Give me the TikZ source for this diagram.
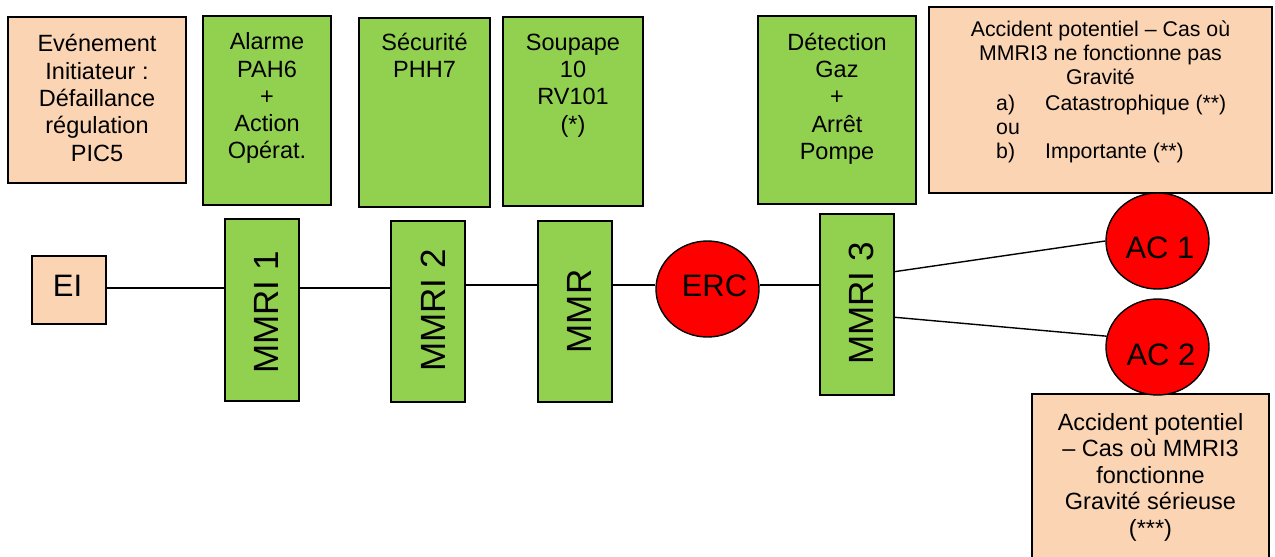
\documentclass[tikz,border=0pt]{standalone}
\usepackage{fontspec}
\setmainfont{Liberation Sans}
\usetikzlibrary{shapes.geometric,calc}
\definecolor{peach}{HTML}{FBD4B4}
\definecolor{lgreen}{HTML}{92D050}
\definecolor{redfill}{HTML}{FF0000}
\newcommand{\fsTop}{\fontsize{23.5}{27.3}\selectfont}
\newcommand{\fsAcc}{\fontsize{21.3}{24.4}\selectfont}
\newcommand{\fsBot}{\fontsize{23.5}{26.5}\selectfont}
\newcommand{\fsRot}{\fontsize{35}{40}\selectfont}
\newcommand{\fsCirc}{\fontsize{31}{36}\selectfont}
\begin{document}
\begin{tikzpicture}[x=1pt,y=-1pt,
  pbox/.style={draw=black,line width=1.6pt,fill=peach,inner sep=0pt},
  gbox/.style={draw=black,line width=1.6pt,fill=lgreen,inner sep=0pt},
  rcirc/.style={ellipse,draw=black,line width=1.4pt,fill=redfill,minimum width=103pt,minimum height=96pt,inner sep=0pt},
  txt/.style={inner sep=0pt,align=center,anchor=north,font=\fsTop},
  rtxt/.style={inner sep=0pt,rotate=90,font=\fsRot},
  ctxt/.style={inner sep=0pt,font=\fsCirc},
  conn/.style={line width=1.4pt}]
\clip (0,0) rectangle (1275,557);
\fill[white] (0,0) rectangle (1275,557);

% top boxes
\node[pbox,minimum width=178pt,minimum height=166pt] (evt) at (97,100) {};
\node[txt] (evtT) at (97,32.6) {\strut Evénement\\Initiateur :\\Défaillance\\régulation\\PIC5};

\node[gbox,minimum width=128pt,minimum height=189pt] (alarm) at (267,110.5) {};
\node[txt] (alarmT) at (267,30.4) {\strut Alarme\\PAH6\\+\\Action\\Opérat.};

\node[gbox,minimum width=131pt,minimum height=189pt] (secu) at (424.5,112.5) {};
\node[txt] (secuT) at (424.5,30.9) {\strut Sécurité\\PHH7};

\node[gbox,minimum width=140pt,minimum height=189pt] (soup) at (573,111.5) {};
\node[txt] (soupT) at (573,30.9) {\strut Soupape\\10\\RV101\\(*)};

\node[gbox,minimum width=158pt,minimum height=188pt] (detect) at (837,110) {};
\node[txt] (detectT) at (837,30.9) {\strut Détection\\Gaz\\+\\Arrêt\\Pompe};

\node[pbox,minimum width=343pt,minimum height=186pt] (accTop) at (1100.5,100) {};
\node[txt,font=\fsAcc] (accTopT) at (1100.5,18.9) {\strut Accident potentiel – Cas où\\MMRI3 ne fonctionne pas\\Gravité};
\node[inner sep=0pt,align=left,anchor=north west,font=\fsAcc] (accList) at (996,92.9)
  {\strut\makebox[49pt][l]{a)}Catastrophique (**)\\ou\\\makebox[49pt][l]{b)}Importante (**)};

% bottom box
\node[pbox,minimum width=237pt,minimum height=200pt] (accBot) at (1150.5,494) {};
\node[txt,font=\fsBot] (accBotT) at (1150.5,411.5) {\strut Accident potentiel\\– Cas où MMRI3\\fonctionne\\Gravité sérieuse\\(***)};

% chain
\node[pbox,minimum width=74pt,minimum height=68pt] (ei) at (69,290) {};
\node[ctxt] (eiT) at (67.5,286) {EI};

\node[gbox,minimum width=74pt,minimum height=182pt] (m1) at (262,310) {};
\node[rtxt] (m1T) at (266.5,312.5) {MMRI 1};

\node[gbox,minimum width=74pt,minimum height=181pt] (m2) at (428,311.5) {};
\node[rtxt] (m2T) at (433.5,310.5) {MMRI 2};

\node[gbox,minimum width=74pt,minimum height=181pt] (mmr) at (575,311.5) {};
\node[rtxt] (mmrT) at (579,311.5) {MMR};

\node[rcirc] (erc) at (707.5,289) {};
\node[ctxt] (ercT) at (714.5,286) {ERC};

\node[gbox,minimum width=74pt,minimum height=181pt] (m3) at (857,304.5) {};
\node[rtxt] (m3T) at (861.5,303.5) {MMRI 3};

\node[rcirc] (ac1) at (1157.5,241) {};
\node[ctxt] (ac1T) at (1160,248) {AC 1};

\node[rcirc] (ac2) at (1157.5,347) {};
\node[ctxt] (ac2T) at (1161,354.5) {AC 2};

% connectors
\coordinate (yA) at (0,288);
\coordinate (yB) at (0,285);
\draw[conn] (ei.east |- yA) -- (m1.west |- yA);
\draw[conn] (m1.east |- yA) -- (m2.west |- yA);
\draw[conn] (m2.east |- yB) -- (mmr.west |- yB);
\draw[conn] (mmr.east |- yB) -- (erc.west |- yB);
\draw[conn] (erc.east |- yB) -- (m3.west |- yB);
\draw[conn] ($(m3.north east)!0.32!(m3.south east)$) -- (ac1.west);
\draw[conn] ($(m3.north east)!0.57!(m3.south east)$) -- (ac2.168);
\end{tikzpicture}
\end{document}
